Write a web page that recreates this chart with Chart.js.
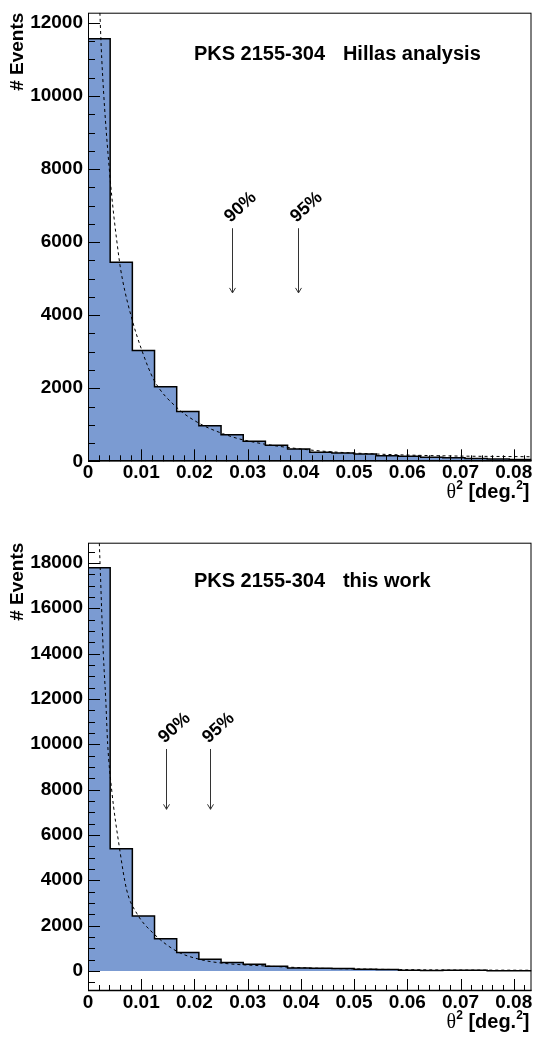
<!DOCTYPE html>
<html>
<head>
<meta charset="utf-8">
<script src="https://cdn.jsdelivr.net/npm/chart.js@4"></script>
<style>
  html, body { margin: 0; padding: 0; background: #fff; }
  .panel { position: absolute; left: 0; width: 535px; }
  #panelTop { top: 0; height: 520px; }
  #panelBottom { top: 520px; height: 517px; }
</style>
</head>
<body>
<div class="panel" id="panelTop"><canvas id="chartTop"></canvas></div>
<div class="panel" id="panelBottom"><canvas id="chartBottom"></canvas></div>
<script>
// ------------------------------------------------------------
// theta^2 distributions, PKS 2155-304 (two analyses)
// ------------------------------------------------------------

// bin edges in deg^2 (20 bins of 1/240)
const BIN_EDGES = [0, 0.004167, 0.008333, 0.0125, 0.016667, 0.020833, 0.025, 0.029167,
  0.033333, 0.0375, 0.041667, 0.045833, 0.05, 0.054167, 0.058333, 0.0625, 0.066667,
  0.070833, 0.075, 0.079167, 0.083333];

// event counts per bin
const HILLAS_COUNTS = [11570, 5450, 3030, 2040, 1360, 975, 730, 548, 440, 337,
  245, 228, 198, 150, 140, 110, 95, 80, 65, 50];
const THISWORK_COUNTS = [17780, 5395, 2425, 1425, 810, 515, 368, 294, 206, 132,
  118, 103, 73, 59, 29, 15, 29, 29, 10, 10];

// fitted curves (dashed)
const HILLAS_FIT_X = [0.00215, 0.00258, 0.0040, 0.0058, 0.0065, 0.0083, 0.0101, 0.0124,
  0.0167, 0.0209, 0.025, 0.0292, 0.0417, 0.0541, 0.0667, 0.0833];
const HILLAS_FIT_Y = [12600, 11030, 8000, 5590, 4960, 3870, 3045, 2225,
  1470, 1040, 775, 585, 310, 200, 150, 125];
const THISWORK_FIT_X = [0.00205, 0.00226, 0.00288, 0.00333, 0.0037, 0.00445, 0.00588, 0.00727,
  0.00915, 0.01227, 0.01667, 0.0209, 0.025, 0.0333, 0.0417, 0.05, 0.0624, 0.0833];
const THISWORK_FIT_Y = [19400, 18000, 14000, 12000, 10000, 7980, 5480, 3570,
  2545, 1660, 870, 515, 350, 220, 130, 90, 50, 30];

// axis ticks
const X_TICKS = [0, 0.01, 0.02, 0.03, 0.04, 0.05, 0.06, 0.07, 0.08];
const X_TICK_LABELS = ['0', '0.01', '0.02', '0.03', '0.04', '0.05', '0.06', '0.07', '0.08'];
const HILLAS_Y_TICKS = [0, 2000, 4000, 6000, 8000, 10000, 12000];
const THISWORK_Y_TICKS = [0, 2000, 4000, 6000, 8000, 10000, 12000, 14000, 16000, 18000];

// containment radii markers
const ARROW_LABELS = ['90%', '95%'];
const HILLAS_ARROW_X = [0.0270, 0.0394];
const THISWORK_ARROW_X = [0.0146, 0.0229];

const FILL = 'rgb(123, 155, 210)';
const FONT = "'Liberation Sans', Arial, sans-serif";

// step histogram points: one per left edge, plus the final right edge
function stepPoints(counts) {
  const pts = counts.map((c, i) => ({ x: BIN_EDGES[i], y: c }));
  pts.push({ x: BIN_EDGES[counts.length], y: counts[counts.length - 1] });
  return pts;
}

// ROOT-like frame, inward ticks, titles and arrows
const rootStyle = {
  id: 'rootStyle',
  afterDatasetsDraw(chart) {
    const o = chart.options.plugins.rootStyle;
    const { ctx, chartArea: a } = chart;
    const x = chart.scales.x, y = chart.scales.y;
    ctx.save();

    // frame
    ctx.strokeStyle = '#000';
    ctx.lineWidth = 1;
    ctx.strokeRect(a.left + 0.5, a.top + 0.5, a.right - a.left - 1, a.bottom - a.top - 1);

    // y ticks (major 2000, minor 500)
    ctx.beginPath();
    for (let v = o.yMinorStart; v <= y.max; v += 500) {
      const py = Math.round(y.getPixelForValue(v)) + 0.5;
      const len = v % 2000 === 0 ? 12 : 7;
      ctx.moveTo(a.left, py);
      ctx.lineTo(a.left + len, py);
    }
    // x ticks (major 0.01, minor 0.002)
    for (let i = 0; i * 0.002 <= x.max; i++) {
      const px = Math.round(x.getPixelForValue(i * 0.002)) + 0.5;
      const len = i % 5 === 0 ? 12 : 6;
      ctx.moveTo(px, a.bottom);
      ctx.lineTo(px, a.bottom - len);
    }
    ctx.stroke();

    // bottom axis line a bit heavier
    ctx.beginPath();
    ctx.lineWidth = 1.5;
    ctx.moveTo(a.left, a.bottom - 0.5);
    ctx.lineTo(a.right, a.bottom - 0.5);
    ctx.stroke();

    ctx.fillStyle = '#000';

    // y title
    ctx.save();
    ctx.translate(18, a.top);
    ctx.rotate(-Math.PI / 2);
    ctx.font = 'bold 19px ' + FONT;
    ctx.textAlign = 'right';
    ctx.textBaseline = 'middle';
    ctx.fillText('# Events', 0, 0);
    ctx.restore();

    // x title: theta^2 [deg.^2], right aligned
    const parts = [
      { t: '\u03B8', f: '20px "Liberation Serif", serif', dy: 0 },
      { t: '2', f: 'bold 12px ' + FONT, dy: -9 },
      { t: ' [deg.', f: 'bold 20px ' + FONT, dy: 0 },
      { t: '2', f: 'bold 12px ' + FONT, dy: -9 },
      { t: ']', f: 'bold 20px ' + FONT, dy: 0 }
    ];
    let total = 0;
    parts.forEach(p => { ctx.font = p.f; p.w = ctx.measureText(p.t).width; total += p.w; });
    let tx = a.right - 2 - total;
    const ty = a.bottom + 37;
    ctx.textAlign = 'left';
    ctx.textBaseline = 'alphabetic';
    parts.forEach(p => { ctx.font = p.f; ctx.fillText(p.t, tx, ty + p.dy); tx += p.w; });

    // panel label
    ctx.font = 'bold 20px ' + FONT;
    const ly = y.getPixelForValue(o.labelY);
    ctx.fillText(o.label[0], x.getPixelForValue(o.labelX[0]), ly);
    ctx.fillText(o.label[1], x.getPixelForValue(o.labelX[1]), ly);

    // arrows
    o.arrowX.forEach((xv, i) => {
      const px = Math.round(x.getPixelForValue(xv)) + 0.5;
      const y0 = y.getPixelForValue(o.arrowY[0]);
      const y1 = y.getPixelForValue(o.arrowY[1]);
      ctx.strokeStyle = '#333';
      ctx.lineWidth = 1;
      ctx.beginPath();
      ctx.moveTo(px, y0);
      ctx.lineTo(px, y1);
      ctx.moveTo(px - 3, y1 - 5);
      ctx.lineTo(px, y1);
      ctx.lineTo(px + 3, y1 - 5);
      ctx.stroke();
      ctx.save();
      ctx.translate(px + 8, y0 - 21);
      ctx.rotate(-42 * Math.PI / 180);
      ctx.font = 'bold 18px ' + FONT;
      ctx.textAlign = 'center';
      ctx.textBaseline = 'middle';
      ctx.fillText(ARROW_LABELS[i], 0, 0);
      ctx.restore();
    });

    ctx.restore();
  }
};

function makeChart(canvasId, cfg) {
  return new Chart(document.getElementById(canvasId), {
    type: 'line',
    data: {
      datasets: [
        {
          data: stepPoints(cfg.counts),
          stepped: 'before',
          borderColor: '#000',
          borderWidth: 1.5,
          backgroundColor: FILL,
          fill: 'origin',
          pointRadius: 0,
          order: 2
        },
        {
          data: cfg.fitX.map((v, i) => ({ x: v, y: cfg.fitY[i] })),
          borderColor: '#000',
          borderWidth: 1,
          borderDash: [3, 3],
          cubicInterpolationMode: 'monotone',
          fill: false,
          pointRadius: 0,
          order: 1
        }
      ]
    },
    options: {
      responsive: true,
      maintainAspectRatio: false,
      animation: false,
      events: [],
      layout: { padding: { top: cfg.top, right: 3.5, left: 0, bottom: 0 } },
      plugins: {
        legend: { display: false },
        tooltip: { enabled: false },
        rootStyle: {
          yMinorStart: cfg.yMinorStart,
          label: cfg.label,
          labelX: [0.0199, 0.0479],
          labelY: cfg.labelY,
          arrowX: cfg.arrowX,
          arrowY: cfg.arrowY
        }
      },
      scales: {
        x: {
          type: 'linear',
          min: 0,
          max: BIN_EDGES[BIN_EDGES.length - 1],
          grid: { display: false, drawTicks: false },
          border: { display: false },
          ticks: {
            color: '#000',
            font: { family: FONT, size: 19, weight: 'bold' },
            padding: 0,
            maxRotation: 0,
            autoSkip: false,
            callback: (v, i) => X_TICK_LABELS[i]
          },
          afterBuildTicks: s => { s.ticks = X_TICKS.map(v => ({ value: v })); },
          afterFit: s => { s.height = cfg.xHeight; s.paddingLeft = 0; s.paddingRight = 0; }
        },
        y: {
          min: cfg.yMin,
          max: cfg.yMax,
          grid: { display: false, drawTicks: false },
          border: { display: false },
          ticks: {
            color: '#000',
            font: { family: FONT, size: 19, weight: 'bold' },
            padding: 5,
            callback: v => String(v)
          },
          afterBuildTicks: s => { s.ticks = cfg.yTicks.map(v => ({ value: v })); },
          afterFit: s => { s.width = 88; s.paddingTop = 0; s.paddingBottom = 0; }
        }
      }
    },
    plugins: [rootStyle]
  });
}

makeChart('chartTop', {
  counts: HILLAS_COUNTS,
  fitX: HILLAS_FIT_X,
  fitY: HILLAS_FIT_Y,
  yTicks: HILLAS_Y_TICKS,
  yMin: 0,
  yMax: 12280,
  yMinorStart: 0,
  top: 12.7,
  xHeight: 520 - 461.3,
  label: ['PKS 2155-304', 'Hillas analysis'],
  labelY: 10980,
  arrowX: HILLAS_ARROW_X,
  arrowY: [6380, 4610]
});

makeChart('chartBottom', {
  counts: THISWORK_COUNTS,
  fitX: THISWORK_FIT_X,
  fitY: THISWORK_FIT_Y,
  yTicks: THISWORK_Y_TICKS,
  yMin: -885,
  yMax: 18890,
  yMinorStart: -500,
  top: 22.7,
  xHeight: 517 - 471,
  label: ['PKS 2155-304', 'this work'],
  labelY: 16950,
  arrowX: THISWORK_ARROW_X,
  arrowY: [9790, 7130]
});
</script>
</body>
</html>
